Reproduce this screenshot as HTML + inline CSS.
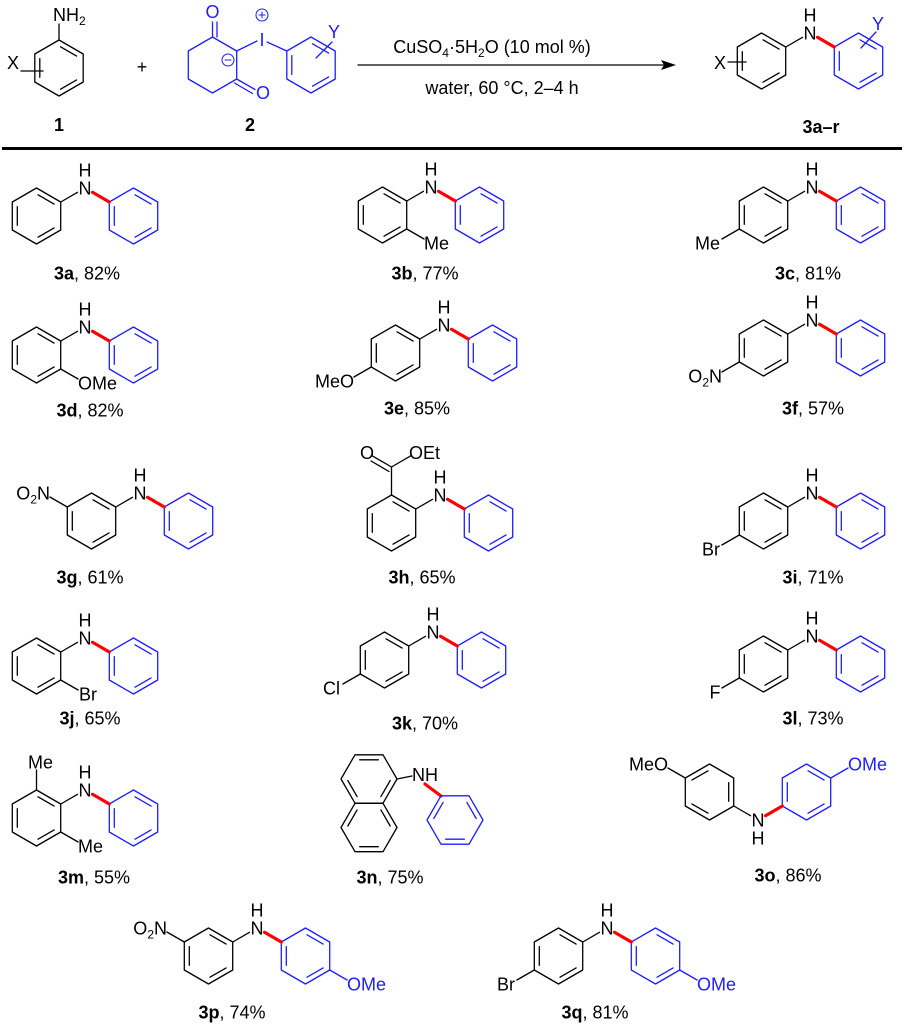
<!DOCTYPE html>
<html><head><meta charset="utf-8"><style>body{margin:0;background:#fff}svg{display:block}text{font-family:"Liberation Sans",Arial,sans-serif;font-size:18px}</style></head><body>
<svg id="s" width="904" height="1024" viewBox="0 0 904 1024" xmlns="http://www.w3.org/2000/svg"></svg>
<script>
const L=28,B='#000',U='#1e1eff',R='#ff0000';let o='';
const r=a=>a*Math.PI/180;
function ln(a,b,c,d,col=B,w=1.3){o+=`<line x1="${a.toFixed(1)}" y1="${b.toFixed(1)}" x2="${c.toFixed(1)}" y2="${d.toFixed(1)}" stroke="${col}" stroke-width="${w}" stroke-linecap="round"/>`}
function tx(x,y,s,anc='middle',col=B,extra=''){o+=`<text x="${x}" y="${y}" text-anchor="${anc}" fill="${col}" ${extra}>${s}</text>`}
function verts(cx,cy,flat){const v=[];for(let i=0;i<6;i++){const a=r(flat?60*i:-90+60*i);v.push([cx+L*Math.cos(a),cy+L*Math.sin(a)])}return v}
function ring(cx,cy,col,dbl,flat){const v=verts(cx,cy,flat);o+=`<polygon points="${v.map(p=>p[0].toFixed(1)+','+p[1].toFixed(1)).join(' ')}" fill="none" stroke="${col}" stroke-width="1.3" stroke-linejoin="round"/>`;
for(const d of dbl){const p=v[d],q=v[(d+1)%6];const k=0.79;const a=[cx+(p[0]-cx)*k,cy+(p[1]-cy)*k],b=[cx+(q[0]-cx)*k,cy+(q[1]-cy)*k];const t=0.08;ln(a[0]+(b[0]-a[0])*t,a[1]+(b[1]-a[1])*t,b[0]-(b[0]-a[0])*t,b[1]-(b[1]-a[1])*t,col)}return v}
function sub(cx,cy,vi,lab,anc,dx,col=B,flat=false){const v=verts(cx,cy,flat)[vi];const ux=(v[0]-cx)/L,uy=(v[1]-cy)/L;const P=[v[0]+ux*L,v[1]+uy*L];ln(v[0],v[1],P[0]-ux*8,P[1]-uy*8,col);tx(P[0]+dx,P[1]+6.5,lab,anc,col)}
function dpa(nx,ny,s1=[],s2=[],flip=false,d1=[0,2,4],d2=[0,2,4]){const f=flip?-1:1;
const c1=[nx-48.5,ny+28*f],c2=[nx+48.5,ny+28*f];
ring(c1[0],c1[1],B,d1);ring(c2[0],c2[1],U,d2);
ln(nx-24.25,ny+14*f,nx-7.5,ny+4.3*f);
ln(nx+7.5,ny+4.3*f,nx+24.25,ny+14*f,R,3.2);
tx(nx,ny+6.5,'N');tx(nx,ny+6.5-18*f,'H');
s1.forEach(s=>sub(c1[0],c1[1],s[0],s[1],s[2],s[3]));s2.forEach(s=>sub(c2[0],c2[1],s[0],s[1],s[2],s[3],U));}
function lab(x,y,b,rest){tx(x,y+6.5,`<tspan font-weight="bold">${b}</tspan>, ${rest}`)}
const O2N='O<tspan font-size="12" dy="4">2</tspan><tspan dy="-4">N</tspan>';

ring(59,68,B,[0,2,4]);ln(59,40,59,24);tx(53,21,'NH<tspan font-size="12" dy="4">2</tspan>','start');
tx(13,69,'X');ln(21,71,43,71);
tx(59,131,'1','middle',B,'font-weight="bold"');
tx(142,73,'+');
{ring(212.5,65,U,[]);ln(212.5,37,212.5,22,U);ln(217,37,217,22,U);tx(212.5,18,'O','middle',U);
ln(236.7,79,255,89.5,U);ln(234.5,83,252.5,93.5,U);tx(263,99,'O','middle',U);
o+=`<circle cx="228" cy="60" r="6" fill="none" stroke="${U}" stroke-width="1"/>`;ln(225,60,231,60,U,1);
ln(236.7,51,257,41,U);tx(262,46,'I','middle',U);
o+=`<circle cx="262" cy="15" r="6" fill="none" stroke="${U}" stroke-width="1"/>`;ln(259,15,265,15,U,1);ln(262,12,262,18,U,1);
ln(267,42,286.8,51,U);ring(311,65,U,[0,2,4]);ln(316,58,332,42,U);tx(334,38,'Y','middle',U);
tx(250,131,'2','middle',B,'font-weight="bold"');}
ln(358,65,666,65,B,1.3);o+=`<polygon points="676,65 661,60 664,65 661,70" fill="#000"/>`;
tx(492,53,'CuSO<tspan font-size="12" dy="4">4</tspan><tspan dy="-4">·5H</tspan><tspan font-size="12" dy="4">2</tspan><tspan dy="-4">O (10 mol %)</tspan>');
tx(502,94,'water, 60 °C, 2–4 h');
dpa(810,33);tx(720,69,'X');ln(728,62,746,62);ln(861,48,876,32,U);tx(878,30,'Y','middle',U);
tx(821,133,'3a–r','middle',B,'font-weight="bold"');
o+=`<rect x="2" y="147" width="900" height="3" fill="#000"/>`;

dpa(85,188);lab(87,273,'3a','82%');
dpa(431,187,[[2,'Me','start',-7]]);lab(425,273,'3b','77%');
dpa(812,187,[[4,'Me','end',5]]);lab(808,273,'3c','81%');
dpa(85,327,[[2,'OMe','start',-7]]);lab(90,410,'3d','82%');
dpa(444,325,[[4,'MeO','end',7]]);lab(417,408,'3e','85%');
dpa(812,320,[[4,O2N,'end',7]]);lab(813,408,'3f','57%');
dpa(140,493,[[5,O2N,'end',7]]);lab(90,577,'3g','61%');
dpa(440,495);ln(391.5,495,391.5,467);ln(391.5,467,372,455.7);ln(389,471.5,371,461);tx(367,459,'O');ln(391.5,467,411,455.7);tx(409,459,'OEt','start');lab(422,577,'3h','65%');
dpa(812,493,[[4,'Br','end',5]]);lab(813,577,'3i','71%');
dpa(85,638,[[2,'Br','start',-6]]);lab(90,718,'3j','65%');
dpa(433,632,[[4,'Cl','end',4]]);lab(425,723,'3k','70%');
dpa(812,636,[[4,'F','middle',0]]);lab(813,718,'3l','73%');
dpa(85,790,[[0,'Me','middle',4],[2,'Me','start',-7]]);lab(94,877,'3m','55%');
ring(369,779,B,[0,2,4],true);ring(369,827.5,B,[1,3,5],true);
ln(397,779,412,776);tx(412,781,'NH','start');ln(425,784,441,796,R,3.2);ring(455,820,U,[1,3,5],true);
lab(390,877,'3n','75%');
dpa(758,820,[[5,'MeO','end',7]],[[1,'OMe','start',-7]],true,[1,3,5],[0,2,4]);lab(788,875,'3o','86%');
dpa(257,928,[[5,O2N,'end',7]],[[2,'OMe','start',-7]]);lab(232,1012,'3p','74%');
dpa(607,928,[[4,'Br','end',5]],[[2,'OMe','start',-7]]);lab(595,1012,'3q','81%');
document.getElementById('s').innerHTML=o;
</script>
</body></html>
